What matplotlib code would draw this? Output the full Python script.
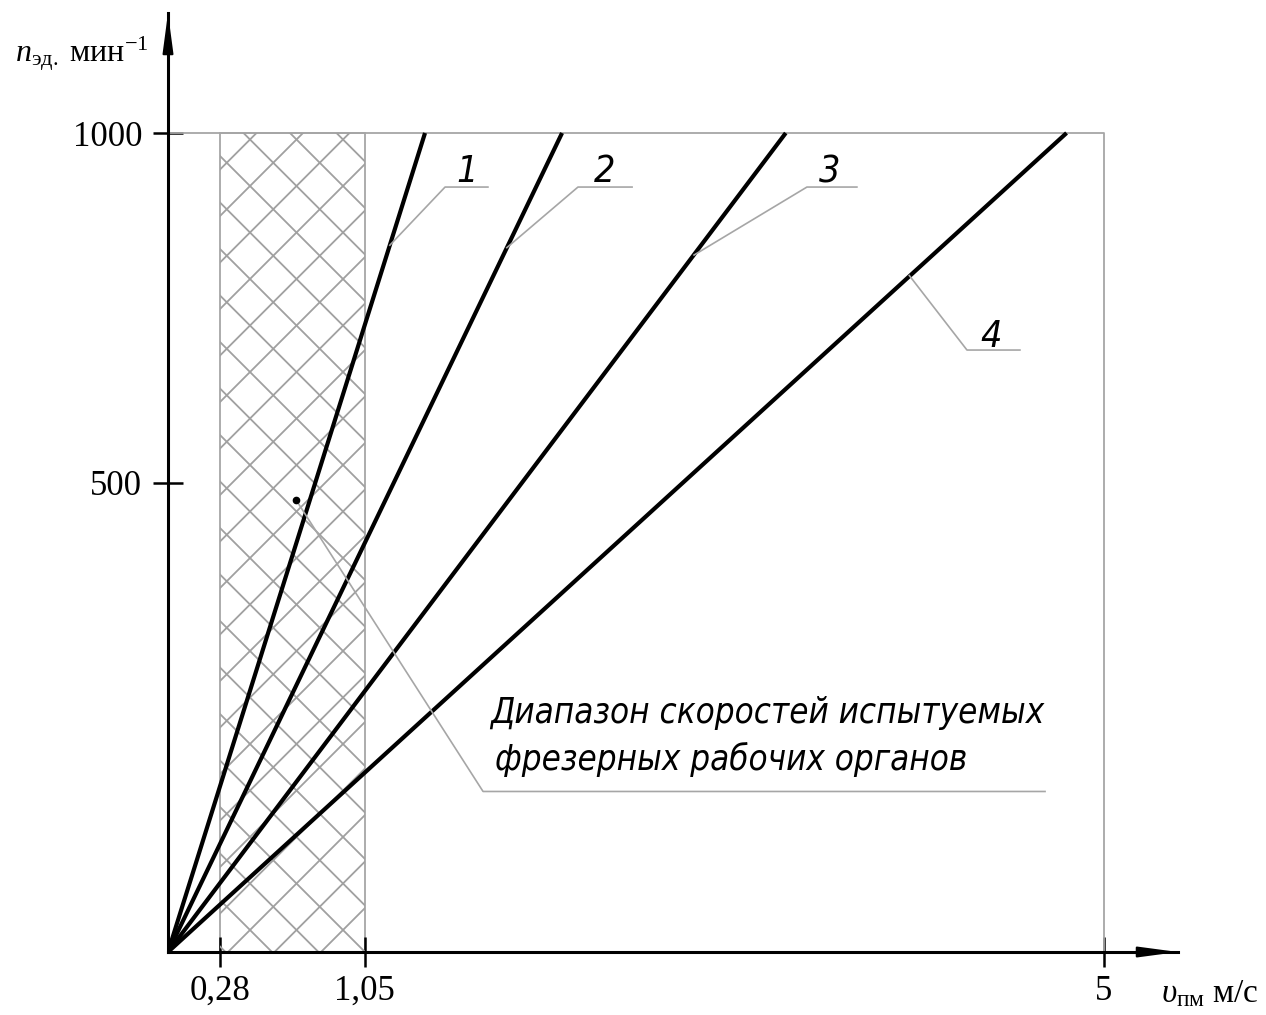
import numpy as np
import matplotlib
matplotlib.use('Agg')
import matplotlib.pyplot as plt
from matplotlib.patches import Rectangle
from matplotlib.collections import LineCollection

# скорость подачи v_пм (м/с), при которой n_эд = 1000 мин^-1, для линий 1..4
line_names = ['1', '2', '3', '4']
v_at_top = [1.373, 2.105, 3.30, 4.80]
n_top = 1000
v_right = 5

# диапазон скоростей испытуемых фрезерных рабочих органов
v_range = [0.28, 1.05]

x_ticks = [0.28, 1.05, 5]
x_tick_labels = ['0,28', '1,05', '5']
y_ticks = [573, 1000]          # на чертеже отметка 500 стоит не в масштабе
y_tick_labels = ['500', '1000']

# выноски для номеров линий: точка на линии, полка, номер
leader_x = [1.185, 1.81, 2.81, 3.96]
leader_y = [863, 860, 851, 826]
shelf_x0 = [1.480, 2.190, 3.413, 4.268]
shelf_x1 = [1.709, 2.479, 3.680, 4.551]
shelf_y = [934, 934, 934, 735]
num_x = [1.60, 2.334, 3.536, 4.396]
num_y = [940, 940, 940, 739]

# выноска для надписи о диапазоне
note_lines = ['Диапазон скоростей испытуемых', 'фрезерных рабочих органов']
note_x = [1.72, 1.747]
note_y = [279, 222]
note_dot = (0.684, 552)
note_shelf_x = [1.683, 4.685]
note_shelf_y = 196

gray = '#a6a6a6'
narrow = ['DejaVu Sans']

plt.rcParams['font.family'] = ['Liberation Serif', 'DejaVu Serif']
plt.rcParams['mathtext.fontset'] = 'custom'
plt.rcParams['mathtext.rm'] = 'Liberation Serif'
plt.rcParams['mathtext.it'] = 'Liberation Serif:italic'

W, H = 1266, 1015
fig = plt.figure(figsize=(W / 100, H / 100), dpi=100)
x0_px, y0_px = 168, 952
sx, sy = 187.2, 0.819          # пикселей на единицу
xmax = (1178 - x0_px) / sx
ymax = (y0_px - 13) / sy
ax = fig.add_axes([x0_px / W, (H - y0_px) / H, (1178 - x0_px) / W, (y0_px - 13) / H])
ax.set_xlim(0, xmax)
ax.set_ylim(0, ymax)

for s in ['top', 'right']:
    ax.spines[s].set_visible(False)
for s in ['left', 'bottom']:
    ax.spines[s].set_linewidth(2.2)

# стрелки осей (только наконечники, сама ось — это spine)
arrow = dict(arrowstyle='-|>,head_length=1.2,head_width=0.16', color='k', lw=1.5,
             shrinkA=0, shrinkB=0, mutation_scale=20)
ax.annotate('', xy=(0, ymax), xytext=(0, ymax - 44), arrowprops=arrow, annotation_clip=False)
ax.annotate('', xy=(xmax, 0), xytext=(xmax - 0.19, 0), arrowprops=arrow, annotation_clip=False)

ax.set_xticks(x_ticks, x_tick_labels)
ax.set_yticks(y_ticks, y_tick_labels)
ax.tick_params(direction='inout', length=21, width=1.8, labelsize=25)
ax.tick_params(axis='x', pad=6)
ax.tick_params(axis='y', pad=8)

# рамка 1000 / 5
ax.plot([0, v_right, v_right], [n_top, n_top, 0], color=gray, lw=1.3)

# заштрихованная область
rect = Rectangle((v_range[0], 0), v_range[1] - v_range[0], n_top, fill=False,
                 ec=gray, lw=1.3)
ax.add_patch(rect)
T = ax.transData
ax_px = T.transform([[v_range[0], 0], [v_range[1], n_top]])
anchor = T.transform([(250 - x0_px) / sx, (y0_px - 930) / sy])
step = 46.5
span = (ax_px[1] - ax_px[0]).sum() + 4 * step
segs = []
for k in range(-40, 41):
    for sgn in (1, -1):
        cx = anchor[0] + k * step
        p = np.array([[cx - span, anchor[1] - sgn * span], [cx + span, anchor[1] + sgn * span]])
        segs.append(T.inverted().transform(p))
hatch = LineCollection(segs, colors='#a0a0a0', linewidths=1.3)
ax.add_collection(hatch, autolim=False)
hatch.set_clip_path(rect)

# линии 1..4
for v in v_at_top:
    ax.plot([0, v], [0, n_top], color='k', lw=3.0, solid_capstyle='butt')

# выноски с номерами
for i, name in enumerate(line_names):
    ax.plot([leader_x[i], shelf_x0[i], shelf_x1[i]], [leader_y[i], shelf_y[i], shelf_y[i]],
            color=gray, lw=1.2)
    ax.text(num_x[i], num_y[i], name, family=narrow, style='italic', fontsize=27,
            fontstretch='condensed', ha='center', va='baseline')

# надпись о диапазоне
ax.plot([note_dot[0], note_shelf_x[0], note_shelf_x[1]],
        [note_dot[1], note_shelf_y, note_shelf_y], color=gray, lw=1.2)
ax.plot(note_dot[0], note_dot[1], 'o', color='k', ms=4.5)
for t, x, y in zip(note_lines, note_x, note_y):
    ax.text(x, y, t, family=narrow, style='italic', fontsize=25, fontstretch='condensed',
            ha='left', va='baseline')

# подписи осей
fig.text(15 / W, 1 - 63 / H, r'$n_{\mathrm{эд.}}\ \mathrm{мин}^{-1}$', fontsize=23, va='baseline')
fig.text(1161 / W, 1 - 1002 / H, r'$\upsilon_{\mathrm{пм}}\ \mathrm{м/с}$', fontsize=24, va='baseline')

fig.savefig('out.png', dpi=100)
